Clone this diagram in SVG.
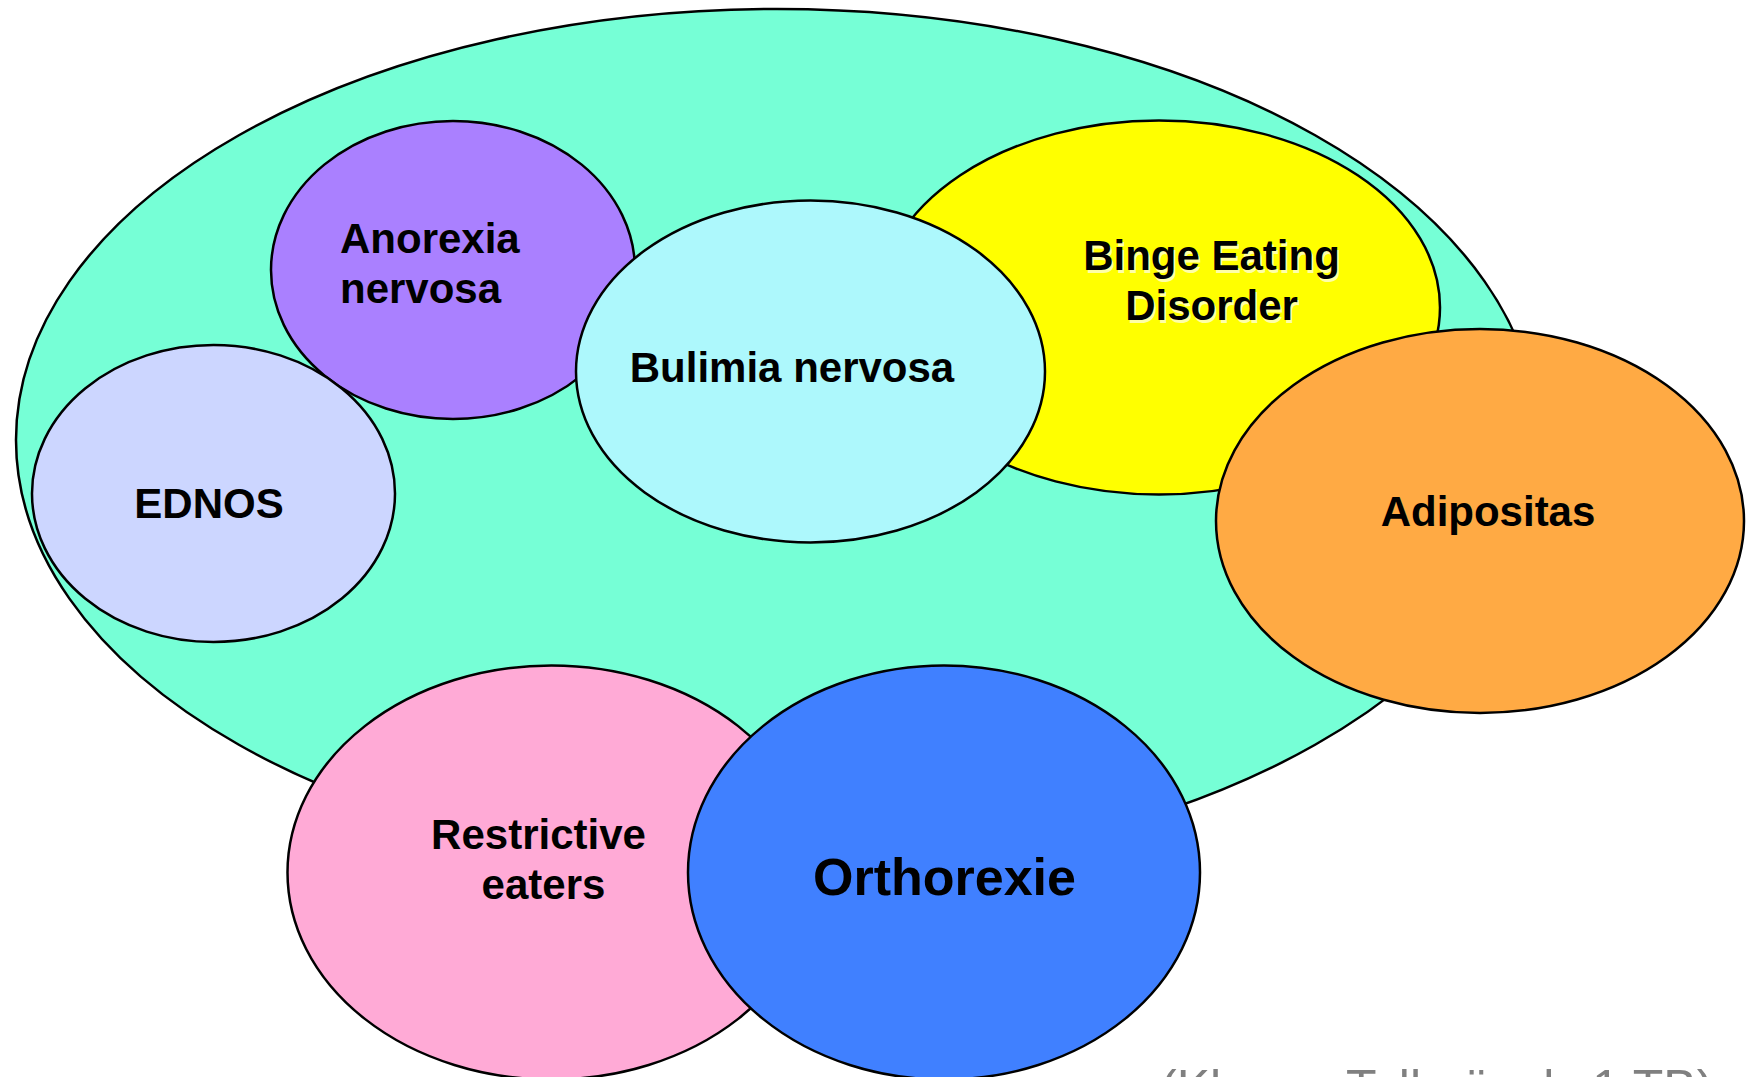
<svg xmlns="http://www.w3.org/2000/svg" width="1747" height="1077" viewBox="0 0 1747 1077">
<style>
.e{stroke:#000;stroke-width:2.5}
.t{font-family:"Liberation Sans",Arial,sans-serif;font-weight:bold;font-size:42px;fill:#000}
.c{text-anchor:middle}
.sh{fill:#FFFFA8}
.src{font-family:"Liberation Sans",Arial,sans-serif;font-size:50px;fill:#808080}
</style>
<rect width="1747" height="1077" fill="#fff"/>
<g id="essstoerungen">
<ellipse class="e" cx="777" cy="440" rx="761" ry="431" fill="#76FFD6"/>
</g>
<g id="anorexia">
<ellipse class="e" cx="453" cy="270" rx="182" ry="149" fill="#AA80FF"/>
<text class="t" x="340" y="253">Anorexia</text>
<text class="t" x="340" y="303">nervosa</text>
</g>
<g id="ednos">
<ellipse class="e" cx="213.5" cy="493.5" rx="181.5" ry="148.5" fill="#CCD6FF"/>
<text class="t c" x="209" y="518">EDNOS</text>
</g>
<g id="binge">
<ellipse class="e" cx="1159" cy="307.5" rx="281" ry="187" fill="#FFFF00"/>
<text class="t c sh" x="1213.5" y="272.5">Binge Eating</text>
<text class="t c sh" x="1213.5" y="322.5">Disorder</text>
<text class="t c" x="1211.5" y="270">Binge Eating</text>
<text class="t c" x="1211.5" y="320">Disorder</text>
</g>
<g id="bulimia">
<ellipse class="e" cx="810.5" cy="371.5" rx="234.5" ry="171" fill="#ADF8FC"/>
<text class="t c" x="792" y="382">Bulimia nervosa</text>
</g>
<g id="adipositas">
<ellipse class="e" cx="1480" cy="521" rx="264" ry="192" fill="#FFAA44"/>
<text class="t c" x="1488" y="526">Adipositas</text>
</g>
<g id="restrictive">
<ellipse class="e" cx="551.5" cy="872.5" rx="264" ry="207" fill="#FFAAD6"/>
<text class="t c" x="538.5" y="849">Restrictive</text>
<text class="t c" x="543.5" y="899">eaters</text>
</g>
<g id="orthorexie">
<ellipse class="e" cx="944" cy="872.5" rx="256" ry="207" fill="#4080FF"/>
<text class="t c" x="944.5" y="895" style="font-size:52px">Orthorexie</text>
</g>
<g id="connectors"/>
<text class="src" y="1105"><tspan x="1160">(Kluser,</tspan> <tspan x="1346">Tallmüsel,</tspan> <tspan x="1592">1 TB)</tspan></text>
</svg>
